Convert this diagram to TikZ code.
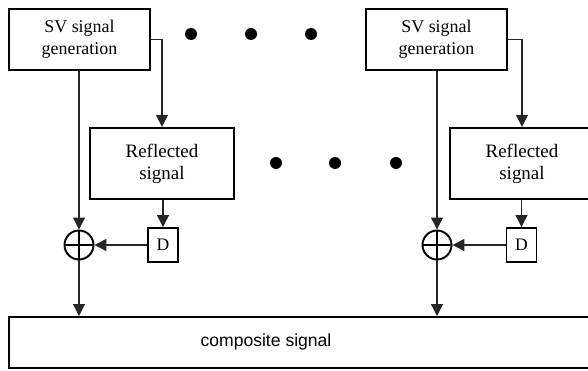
\documentclass[tikz,border=0pt]{standalone}
\usepackage{fontspec}
\setmainfont{Liberation Serif}
\setsansfont{Liberation Sans}
\usepackage{xcolor}
\usetikzlibrary{arrows.meta}
\definecolor{linegray}{HTML}{262626}

\begin{document}
\begin{tikzpicture}[x=0.02cm,y=-0.02cm,
  genbox/.style={draw,line width=1.3pt,minimum width=2.82cm,minimum height=1.22cm,inner sep=0pt,align=center,font=\fontsize{10.2}{12.5}\selectfont},
  reflbox/.style={genbox,minimum width=2.88cm,minimum height=1.42cm,font=\fontsize{10.8}{12.5}\selectfont},
  delaybox/.style={draw,line width=1.1pt,minimum width=0.6cm,minimum height=0.68cm,inner sep=0pt,font=\fontsize{10}{12}\selectfont},
  sumnode/.style={draw,circle,line width=1.1pt,minimum size=0.58cm,inner sep=0pt},
  flow/.style={-{Triangle[length=6.8pt,width=6.8pt]},line width=0.7pt,linegray}]
  \useasboundingbox (0,0) rectangle (588,371);
  \clip (0,0) rectangle (588,371);
  \node[genbox] (sv1) at (79.5,39.5) {SV signal\\generation};
  \node[genbox] (sv2) at (436.5,39.5) {SV signal\\generation};
  \node[reflbox] (refl1) at (162,163.5) {Reflected\\signal};
  \node[reflbox] (refl2) at (522,163.5) {Reflected\\signal};
  \node[delaybox] (d1) at (163,245) {D};
  \node[delaybox] (d2) at (521.5,245) {D};
  \node[sumnode] (sum1) at (79,245) {};
  \node[sumnode] (sum2) at (437,245) {};
  \draw[line width=0.8pt] (sum1.north) -- (sum1.south) (sum1.west) -- (sum1.east);
  \draw[line width=0.8pt] (sum2.north) -- (sum2.south) (sum2.west) -- (sum2.east);
  \node[draw,line width=1.3pt,minimum width=12.6cm,minimum height=1.02cm,inner sep=0pt,anchor=north west] (comp) at (8,316) {};
  \node[font=\sffamily\fontsize{10}{12}\selectfont] (comptext) at (266,342) {composite signal};
  \foreach \x in {191,251,311} \fill (\x,34) circle (6);
  \foreach \x in {276,335,396} \fill (\x,163) circle (6);
  \draw[flow] (sv1.east) -| (refl1.north);
  \draw[flow] (sv1.south -| sum1) -- (sum1.north);
  \draw[flow] (refl1.south -| d1) -- (d1.north);
  \draw[flow] (d1.west) -- (sum1.east);
  \draw[flow] (sum1.south) -- (sum1 |- comp.north);
  \draw[flow] (sv2.east) -| (refl2.north);
  \draw[flow] (sv2.south -| sum2) -- (sum2.north);
  \draw[flow] (refl2.south -| d2) -- (d2.north);
  \draw[flow] (d2.west) -- (sum2.east);
  \draw[flow] (sum2.south) -- (sum2 |- comp.north);
\end{tikzpicture}
\end{document}
